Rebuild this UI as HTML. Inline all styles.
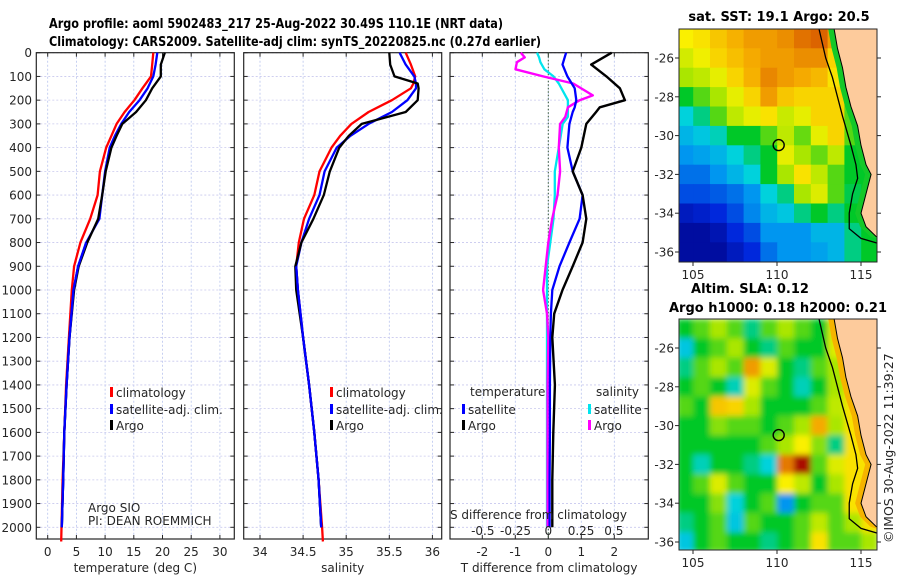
<!DOCTYPE html>
<html><head><meta charset="utf-8"><style>
html,body{margin:0;padding:0;background:#fff}
svg{display:block;font-family:"DejaVu Sans","Liberation Sans",sans-serif}
.t{font-size:12px;fill:#262626}
.b{font-weight:bold;font-size:13px;fill:#000}
</style></head><body>
<svg id="fig" xmlns="http://www.w3.org/2000/svg" width="900" height="580" viewBox="0 0 900 580">
<defs><filter id="blur" x="-5%" y="-5%" width="110%" height="110%"><feGaussianBlur stdDeviation="3"/></filter></defs>
<g id="titles">
<text class="b" x="49" y="28" textLength="454" lengthAdjust="spacingAndGlyphs">Argo profile: aoml 5902483_217 25-Aug-2022 30.49S 110.1E (NRT data)</text>
<text class="b" x="49" y="46" textLength="492" lengthAdjust="spacingAndGlyphs">Climatology: CARS2009. Satellite-adj clim: synTS_20220825.nc (0.27d earlier)</text>
</g>
<g id="p1"></g>
<g id="p2"></g>
<g id="p3"></g>
<g id="m1"></g>
<g id="m2"></g>
<text class="t" transform="translate(893,543) rotate(-90)" style="font-size:12.5px">©IMOS 30-Aug-2022 11:39:27</text>
</svg>
<script>
// ---------- data ----------
const depthT = [0,50,100,150,200,250,300,350,400,500,600,700,800,900,1000,1200,1400,1600,1800,2000];
const tempClim = [18.4,18.2,18.0,16.5,15.1,13.4,12.0,11.1,10.2,9.1,8.7,7.4,5.7,4.6,4.2,3.7,3.2,2.9,2.6,2.4];
const tempSat  = [19.1,18.8,18.4,17.4,16.0,14.2,12.8,11.7,10.8,10.0,9.5,9.0,6.7,5.3,4.5,3.8,3.3,2.9,2.7,2.45];
const tempArgo = [20.4,19.7,19.7,18.2,17.1,15.4,13.0,12.0,11.1,10.1,9.5,8.8,6.9,5.4,4.6,3.8,3.3,2.9,2.7,2.45];
const depthS = [0,50,100,130,150,200,250,300,350,400,500,600,700,800,900,1000,1200,1400,1600,1800,2000];
const salClim = [35.69,35.75,35.80,35.78,35.75,35.53,35.26,35.06,34.93,34.83,34.69,34.63,34.51,34.45,34.42,34.44,34.50,34.57,34.63,34.68,34.72];
const salSat  = [35.62,35.69,35.79,35.81,35.81,35.71,35.53,35.26,35.05,34.89,34.75,34.69,34.57,34.48,34.42,34.44,34.50,34.57,34.63,34.68,34.71];
const salArgo = [35.50,35.51,35.56,35.83,35.84,35.83,35.69,35.18,35.03,34.92,34.81,34.74,34.62,34.48,34.41,34.42,34.50,34.57,34.63,34.68,34.71];
const depthD = [0,50,100,150,200,230,250,300,400,500,600,700,800,900,1000,1100,1200,1400,1600,1800,2000];
const dTArgo = [1.92,1.30,1.76,2.17,2.32,1.56,1.45,1.15,1.00,0.74,1.04,1.15,1.04,0.74,0.43,0.18,0.12,0.20,0.15,0.12,0.12];
const dTSat  = [0.54,0.43,0.58,0.80,0.85,0.80,0.74,0.64,0.58,0.74,1.04,0.95,0.64,0.34,0.12,0.08,0.06,0.05,0.05,0.04,0.04];
const depthDS = [0,20,40,70,100,130,180,200,230,270,300,400,500,600,700,800,900,1000,1100,1200,1400,1600,1800,2000];
const dSArgo = [-0.21,-0.18,-0.24,-0.25,-0.04,0.19,0.34,0.24,0.15,0.13,0.09,0.08,0.09,0.07,0.03,0.0,-0.02,-0.04,-0.01,0.0,-0.005,-0.005,-0.005,-0.005];
const dSSat  = [-0.086,-0.07,-0.06,-0.03,0.04,0.08,0.13,0.15,0.15,0.15,0.11,0.08,0.05,0.05,0.04,0.015,-0.01,-0.01,-0.01,-0.01,-0.01,-0.01,-0.01,-0.01];
const depthTicks = [0,100,200,300,400,500,600,700,800,900,1000,1100,1200,1300,1400,1500,1600,1700,1800,1900,2000];
const tTicks = [0,5,10,15,20,25,30];
const sTicks = [34,34.5,35,35.5,36];
const dTTicks = [-2,-1,0,1,2];
const dSTicks = [-0.5,-0.25,0,0.25,0.5];
const dSLabels = ["-0.5","-0.25","0","0.25","0.5"];
const lonTicks = [105,110,115];
const latTicks = [-26,-28,-30,-32,-34,-36];
const gridLon = [104,105,106,107,108,109,110,111,112,113,114,115];
const gridLat = [-24.5,-25.5,-26.5,-27.5,-28.5,-29.5,-30.5,-31.5,-32.5,-33.5,-34.5,-35.5];
const sstGrid = [
[.68,.70,.74,.77,.80,.80,.82,.86,.88,.80,.50,.50],
[.64,.67,.72,.75,.78,.80,.80,.82,.82,.72,.50,.50],
[.60,.62,.66,.72,.77,.83,.80,.78,.76,.70,.50,.50],
[.50,.55,.60,.66,.72,.80,.74,.72,.72,.72,.55,.50],
[.40,.45,.55,.62,.66,.70,.63,.66,.72,.72,.55,.50],
[.35,.38,.42,.50,.50,.55,.62,.56,.66,.72,.55,.50],
[.30,.32,.35,.40,.45,.50,.66,.60,.56,.62,.50,.50],
[.25,.25,.30,.35,.40,.50,.60,.70,.62,.55,.50,.50],
[.20,.20,.22,.25,.30,.40,.45,.60,.65,.55,.48,.50],
[.10,.12,.15,.20,.28,.35,.38,.45,.50,.45,.50,.50],
[.05,.05,.08,.15,.20,.30,.30,.30,.35,.35,.45,.50],
[.05,.05,.05,.10,.15,.25,.30,.30,.32,.35,.45,.50]];
const slaGrid = [
[.50,.55,.60,.55,.45,.55,.60,.55,.50,.65,.70,.70],
[.38,.50,.55,.60,.50,.45,.55,.50,.50,.65,.70,.70],
[.45,.55,.60,.55,.80,.65,.50,.45,.55,.60,.70,.70],
[.50,.55,.50,.42,.65,.55,.50,.42,.50,.60,.70,.70],
[.55,.50,.74,.72,.60,.50,.50,.50,.55,.62,.70,.70],
[.50,.50,.58,.55,.55,.50,.55,.60,.78,.60,.70,.70],
[.50,.50,.50,.50,.50,.55,.60,.68,.58,.45,.70,.70],
[.50,.42,.50,.50,.45,.40,.85,.98,.55,.65,.70,.70],
[.50,.55,.65,.55,.50,.50,.68,.62,.50,.60,.70,.70],
[.50,.50,.58,.40,.50,.55,.30,.50,.55,.55,.70,.70],
[.45,.50,.55,.38,.55,.50,.50,.55,.62,.55,.60,.70],
[.38,.50,.55,.50,.50,.45,.50,.55,.70,.55,.55,.60]];
const coastLon = [113.4,113.6,113.9,114.1,114.4,114.8,115.0,115.3,115.6,115.3,115.0,115.3,115.9,116.2];
const coastLat = [-24.5,-25.5,-26.5,-27.5,-28.5,-29.5,-30.5,-31.5,-32.0,-33.0,-34.0,-34.7,-35.2,-35.3];
const shelfLon = [112.5,112.9,113.3,113.6,113.9,114.4,114.7,114.8,114.5,114.3,114.3,115.0,116.2];
const shelfLat = [-24.5,-26.0,-27.0,-28.0,-29.0,-30.5,-31.5,-32.2,-33.0,-34.0,-34.8,-35.3,-35.6];
const floatLon = 110.1, floatLat = -30.49;

// ---------- helpers ----------
const NS = "http://www.w3.org/2000/svg";
function mk(parent, tag, attrs, txt){
  const e = document.createElementNS(NS, tag);
  for (const k in attrs) e.setAttribute(k, attrs[k]);
  if (txt !== undefined) e.textContent = txt;
  parent.appendChild(e); return e;
}
const Y0 = 52.7, DY = 0.2373, BOT = 539;
const yD = d => Y0 + d*DY;
function panel(g, x0, x1, xf, xticks, xlabels, xtitle){
  mk(g,'rect',{x:x0,y:Y0,width:x1-x0,height:BOT-Y0,fill:'#fff'});
  xticks.forEach(v=>{ mk(g,'line',{x1:xf(v),x2:xf(v),y1:Y0,y2:BOT,stroke:'#b8c4ee','stroke-width':0.8,'stroke-dasharray':'2,2'}); });
  depthTicks.forEach(d=>{ mk(g,'line',{x1:x0,x2:x1,y1:yD(d),y2:yD(d),stroke:'#c8c8ee','stroke-width':0.8,'stroke-dasharray':'2,2'}); });
  mk(g,'rect',{x:x0,y:Y0,width:x1-x0,height:BOT-Y0,fill:'none',stroke:'#262626','stroke-width':1.2});
  depthTicks.forEach(d=>{
    mk(g,'line',{x1:x0,x2:x0+4,y1:yD(d),y2:yD(d),stroke:'#262626'});
    mk(g,'line',{x1:x1-4,x2:x1,y1:yD(d),y2:yD(d),stroke:'#262626'});
  });
  xticks.forEach((v,i)=>{
    mk(g,'line',{x1:xf(v),x2:xf(v),y1:BOT,y2:BOT-4,stroke:'#262626'});
    mk(g,'line',{x1:xf(v),x2:xf(v),y1:Y0,y2:Y0+4,stroke:'#262626'});
    const t = mk(g,'text',{class:'t',x:xf(v),y:556,'text-anchor':'middle'}, xlabels[i]);
    
    
  });
  const tt = mk(g,'text',{class:'t',x:(x0+x1)/2,y:572,'text-anchor':'middle','font-size':13}, xtitle);
  
  
}
function line(g, xs, ds, xf, color, name, w){
  const pts = xs.map((v,i)=>xf(v).toFixed(1)+','+yD(ds[i]).toFixed(1)).join(' ');
  const p = mk(g,'polyline',{points:pts,fill:'none',stroke:color,'stroke-width':w||2.3,'stroke-linejoin':'round'});
  
  
}
function legend(g, x, y, color, label){
  mk(g,'rect',{x:x,y:y-10,width:3,height:10,fill:color});
  const t = mk(g,'text',{class:'t',x:x+6,y:y,'font-size':13}, label);
  
  
}

// ---------- panel 1 ----------
const p1 = document.getElementById('p1');
const xT = v => 47.7 + v*5.74;
panel(p1, 36.3, 234.3, xT, tTicks, tTicks.map(String), 'temperature (deg C)');
depthTicks.forEach(d=>{
  const t = mk(p1,'text',{class:'t',x:32,y:yD(d)+4.5,'text-anchor':'end'}, String(d));
  
  
});
line(p1, tempClim.concat([2.35]), depthT.concat([2060]), xT, '#ff0000', 'temp-climatology-line');
line(p1, tempSat, depthT, xT, '#0000ff', 'temp-satellite-line');
line(p1, tempArgo, depthT, xT, '#000000', 'temp-argo-line');
line(p1, tempSat.slice(12), depthT.slice(12), xT, '#0000ff', 'temp-satellite-deep-line');
legend(p1, 110, 397, '#ff0000', 'climatology');
legend(p1, 110, 414, '#0000ff', 'satellite-adj. clim.');
legend(p1, 110, 430, '#000000', 'Argo');
mk(p1,'text',{class:'t',x:88,y:512,'font-size':11},'Argo SIO');
mk(p1,'text',{class:'t',x:88,y:525,'font-size':11},'PI: DEAN ROEMMICH');

// ---------- panel 2 ----------
const p2 = document.getElementById('p2');
const xS = v => 260 + (v-34)*86.2;
panel(p2, 243.7, 441.7, xS, sTicks, sTicks.map(String), 'salinity');
line(p2, salClim.concat([34.73]), depthS.concat([2060]), xS, '#ff0000', 'sal-climatology-line');
line(p2, salSat, depthS, xS, '#0000ff', 'sal-satellite-line');
line(p2, salArgo, depthS, xS, '#000000', 'sal-argo-line');
line(p2, salSat.slice(14), depthS.slice(14), xS, '#0000ff', 'sal-satellite-deep-line');
legend(p2, 330, 397, '#ff0000', 'climatology');
legend(p2, 330, 414, '#0000ff', 'satellite-adj. clim.');
legend(p2, 330, 430, '#000000', 'Argo');

// ---------- panel 3 ----------
const p3 = document.getElementById('p3');
const xDT = v => 548.3 + v*33;
const xDS = v => 548.3 + v*131;
panel(p3, 450, 648.3, xDT, dTTicks, dTTicks.map(String), 'T difference from climatology');
mk(p3,'line',{x1:xDT(0),x2:xDT(0),y1:Y0,y2:BOT,stroke:'#335533','stroke-width':1,'stroke-dasharray':'1.5,2'});
line(p3, dSSat, depthDS, xDS, '#00e5ee', 'sal-diff-satellite-line', 2.3);
line(p3, dSArgo, depthDS, xDS, '#ff00ff', 'sal-diff-argo-line', 2.4);
line(p3, dTSat, depthD, xDT, '#0000ff', 'temp-diff-satellite-line', 2.3);
line(p3, dTArgo, depthD, xDT, '#000000', 'temp-diff-argo-line', 2.4);
mk(p3,'text',{class:'t',x:470,y:396,'font-size':13},'temperature');
legend(p3, 462, 414, '#0000ff', 'satellite');
legend(p3, 462, 430, '#000000', 'Argo');
mk(p3,'text',{class:'t',x:596,y:396,'font-size':13},'salinity');
legend(p3, 588, 414, '#00e5ee', 'satellite');
legend(p3, 588, 430, '#ff00ff', 'Argo');
mk(p3,'text',{class:'t',x:450,y:519,'font-size':13},'S difference from climatology');
dSTicks.forEach((v,i)=>{
  const t = mk(p3,'text',{class:'t',x:xDS(v),y:535,'text-anchor':'middle','font-size':13}, dSLabels[i]);
  
  
});

// ---------- maps ----------
function jet(v){
  const stops=[[0,[0,0,130]],[0.15,[0,40,220]],[0.3,[0,150,240]],[0.4,[0,210,220]],[0.5,[0,200,40]],[0.6,[170,230,0]],[0.68,[250,240,0]],[0.78,[245,170,0]],[0.88,[220,100,0]],[1,[160,0,0]]];
  for(let i=1;i<stops.length;i++){ if(v<=stops[i][0]){const a=stops[i-1],b=stops[i],f=(v-a[0])/(b[0]-a[0]);
    return 'rgb('+a[1].map((c,k)=>Math.round(c+(b[1][k]-c)*f)).join(',')+')';}}
  return 'rgb(160,0,0)';
}
function map(g, top, bot, latRef, grid, stripColor, smooth, title1, title2){
  const X0=679, X1=877;
  const xL = lon => 777 + (lon-110)*16.8;
  const yL = lat => latRef + (-26 - lat)*19.4;
  const cid = 'clip'+top;
  const cp = mk(g,'clipPath',{id:cid}); mk(cp,'rect',{x:X0,y:top,width:X1-X0,height:bot-top});
  const inner = mk(g,'g',{'clip-path':'url(#'+cid+')'});
  const cells = mk(inner,'g',smooth?{filter:'url(#blur)'}:{});
  grid.forEach((row,r)=>row.forEach((v,c)=>{
    const cell = mk(cells,'rect',{x:xL(gridLon[c])+0.2,y:yL(gridLat[r]),width:16.8+0.6,height:19.4+0.6,fill:jet(v)});
    
    
  }));
  let stripW = coastLon.map((v,i)=>xL(v-0.35)+','+yL(coastLat[i]));
  let coastRev = coastLon.map((v,i)=>xL(v)+','+yL(coastLat[i])).reverse();
  mk(inner,'polygon',{points:stripW.concat(coastRev).join(' '),fill:stripColor});
  let land = coastLon.map((v,i)=>xL(v)+','+yL(coastLat[i]));
  land.push(xL(117)+','+yL(-35.3)); land.push(xL(117)+','+yL(-24)); land.push(xL(113.4)+','+yL(-24));
  const lp = mk(inner,'polygon',{points:land.join(' '),fill:'#fdcb9c'});
  
  
  mk(inner,'polyline',{points:coastLon.map((v,i)=>xL(v)+','+yL(coastLat[i])).join(' '),fill:'none',stroke:'#000','stroke-width':1});
  mk(inner,'polyline',{points:shelfLon.map((v,i)=>xL(v)+','+yL(shelfLat[i])).join(' '),fill:'none',stroke:'#000','stroke-width':1.3});
  const fc = mk(g,'circle',{cx:xL(floatLon),cy:yL(floatLat),r:5.5,fill:'none',stroke:'#000','stroke-width':1.4});
  
  
  mk(g,'rect',{x:X0,y:top,width:X1-X0,height:bot-top,fill:'none',stroke:'#262626','stroke-width':1});
  latTicks.forEach(l=>{
    mk(g,'line',{x1:X0-4,x2:X0,y1:yL(l),y2:yL(l),stroke:'#262626'});
    mk(g,'line',{x1:X1,x2:X1+4,y1:yL(l),y2:yL(l),stroke:'#262626'});
    const t = mk(g,'text',{class:'t',x:674,y:yL(l)+4.5,'text-anchor':'end'}, String(l));
    
    
  });
  lonTicks.forEach(l=>{
    mk(g,'line',{x1:xL(l),x2:xL(l),y1:bot,y2:bot+4,stroke:'#262626'});
    const t = mk(g,'text',{class:'t',x:xL(l),y:bot+17,'text-anchor':'middle','font-size':13}, String(l));
    
    
  });
  if(title2){
    mk(g,'text',{class:'b',x:750,y:top-26,'text-anchor':'middle'}, title1);
    mk(g,'text',{class:'b',x:778,y:top-7,'text-anchor':'middle',textLength:218,lengthAdjust:'spacingAndGlyphs'}, title2);
  } else {
    mk(g,'text',{class:'b',x:779,y:top-8,'text-anchor':'middle'}, title1);
  }
}
map(document.getElementById('m1'), 29, 262, 58, sstGrid, 'rgb(20,200,40)', false, 'sat. SST: 19.1 Argo: 20.5');
map(document.getElementById('m2'), 319, 550, 348, slaGrid, 'rgb(245,180,0)', true, 'Altim. SLA: 0.12', 'Argo h1000: 0.18 h2000: 0.21');
</script>
</body></html>
